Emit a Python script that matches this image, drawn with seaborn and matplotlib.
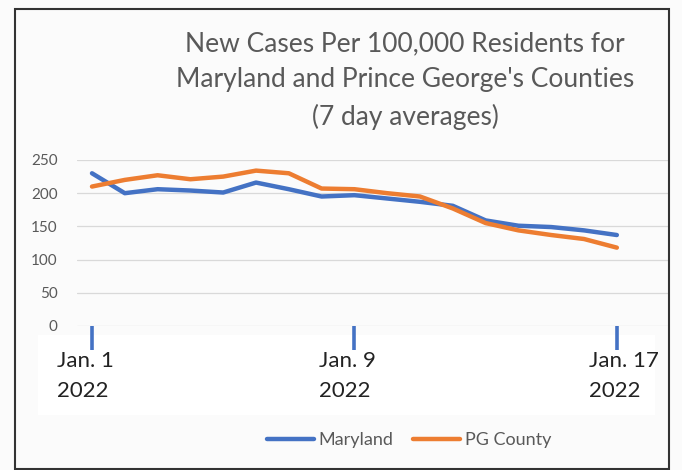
import pandas as pd
import matplotlib.pyplot as plt
import matplotlib.transforms as mtransforms
from matplotlib.patches import Rectangle
import seaborn as sns

# ── Data ──────────────────────────────────────────────────
days = list(range(1, 18))
maryland = [230, 200, 206, 204, 201, 216, 206, 195, 197, 192, 187, 181, 159, 151, 149, 144, 137]
pg_county = [210, 220, 227, 221, 225, 234, 230, 207, 206, 200, 195, 177, 155, 144, 137, 131, 118]
tick_days = [1, 9, 17]
tick_labels = ["Jan. 1\n2022", "Jan. 9\n2022", "Jan. 17\n2022"]
y_ticks = [0, 50, 100, 150, 200, 250]

df = pd.DataFrame({
    "day": days * 2,
    "cases": maryland + pg_county,
    "series": ["Maryland"] * len(days) + ["PG County"] * len(days),
})

# ── Style ──────────────────────────────────────────────────
sns.set_theme(style="white")
plt.rcParams["font.family"] = ["Lato", "DejaVu Sans"]
blue, orange, grey = "#4472C4", "#ED7D31", "#595959"

fig = plt.figure(figsize=(6.82, 4.70), dpi=100, facecolor="#fbfbfb")
ax = fig.add_axes([0.1129, 0.3064, 0.8666, 0.3532])
ax.set_facecolor("#fbfbfb")
ax.set_zorder(2)

# white band behind the date labels + outer frame
fig.patches.append(Rectangle((38 / 682, 55 / 470), 617 / 682, 80 / 470,
                             transform=fig.transFigure, facecolor="white",
                             edgecolor="none", zorder=1))
fig.patches.append(Rectangle((0.022, 0.002), 0.959, 0.979,
                             transform=fig.transFigure, facecolor="none",
                             edgecolor="#333333", linewidth=1.5, zorder=5))

sns.lineplot(data=df, x="day", y="cases", hue="series",
             palette={"Maryland": blue, "PG County": orange},
             linewidth=3.2, ax=ax)

handles, labels = ax.get_legend_handles_labels()
ax.get_legend().remove()

ax.set_xlim(1 - 0.457, 17 + 1.56)
ax.set_ylim(0, 250)
ax.set_yticks(y_ticks)
ax.yaxis.grid(True, color="#d9d9d9", linewidth=0.9)
ax.xaxis.grid(False)
for s in ax.spines.values():
    s.set_visible(False)
ax.set_xlabel("")
ax.set_ylabel("")

ax.tick_params(axis="y", length=0, pad=14, labelsize=11, labelcolor=grey)
ax.set_xticks(tick_days)
ax.set_xticklabels(tick_labels, fontsize=16, color="#222222",
                   multialignment="left", linespacing=1.6)
ax.tick_params(axis="x", direction="out", length=17, width=2.6,
               color=blue, pad=1, bottom=True)
for lbl, dx in zip(ax.get_xticklabels(), [-7, -7, 7]):
    lbl.set_transform(lbl.get_transform() +
                      mtransforms.ScaledTranslation(dx / 100, 0, fig.dpi_scale_trans))

fig.text(405 / 682, 0.828,
         "New Cases Per 100,000 Residents for\nMaryland and Prince George's Counties\n(7 day averages)",
         ha="center", va="center", fontsize=19, color=grey, linespacing=1.55)

fig.legend(handles, labels, loc="center", bbox_to_anchor=(0.6, 0.064),
           bbox_transform=fig.transFigure, ncol=2, frameon=False,
           fontsize=13, labelcolor=grey, handlelength=2.6,
           handletextpad=0.25, columnspacing=1.1)

plt.savefig("out.png", dpi=100, facecolor=fig.get_facecolor())
plt.close()
